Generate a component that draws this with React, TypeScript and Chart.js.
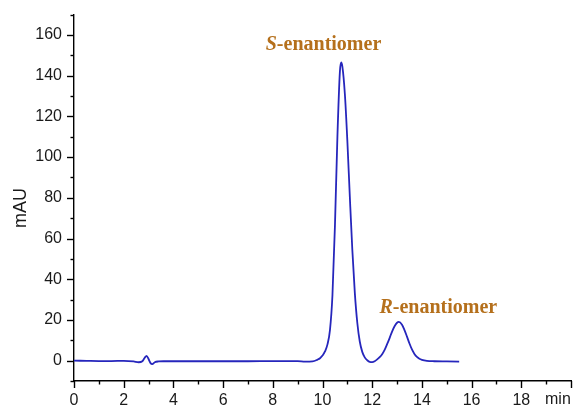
import React, { useEffect, useRef } from "react";
import { Chart, registerables } from "chart.js";

Chart.register(...registerables);

// Retention time (min)
const times = [
  0, 0.5, 1, 1.5, 2, 2.4, 2.6, 2.75, 2.85, 2.92, 3.0, 3.08, 3.15, 3.25, 3.4, 3.6,
  4, 5, 6, 7, 8, 8.5, 9, 9.3, 9.6, 9.8, 9.9, 10.0, 10.1, 10.2, 10.3, 10.4, 10.5,
  10.6, 10.7, 10.75, 10.8, 10.9, 11.0, 11.1, 11.2, 11.3, 11.4, 11.5, 11.6, 11.7,
  11.8, 11.9, 12.0, 12.1, 12.2, 12.3, 12.4, 12.5, 12.6, 12.7, 12.8, 12.9, 13.0,
  13.07, 13.2, 13.3, 13.4, 13.5, 13.6, 13.7, 13.8, 13.9, 14.0, 14.2, 14.5, 15.0, 15.5,
];
// Absorbance (mAU)
const mau = [
  0, -0.1, -0.2, -0.2, -0.1, -0.4, -0.8, -0.3, 1.5, 2.3, 0.8, -1.2, -1.7, -0.8, -0.4, -0.3,
  -0.3, -0.3, -0.3, -0.3, -0.2, -0.2, -0.2, -0.5, -0.4, 0.5, 1.2, 2.5, 4.5, 8, 15, 32, 66,
  110, 142, 146.5, 144.5, 131, 108, 80.5, 54.5, 33.4, 18.6, 9.4, 4.3, 1.6,
  0.2, -0.6, -0.7, -0.3, 0.6, 1.7, 3.2, 5.3, 8.1, 11.1, 14.3, 16.9, 18.6,
  19.0, 17.6, 15.0, 11.8, 8.4, 5.5, 3.3, 1.8, 0.9, 0.4, -0.1, -0.3, -0.4, -0.5,
];

const yTickLabels = [0, 20, 40, 60, 80, 100, 120, 140, 160];
const xTickLabels = [0, 2, 4, 6, 8, 10, 12, 14, 16, 18];
const xUnitLabel = "min";
const yAxisTitle = "mAU";

const peakLabels = [
  { letter: "S", rest: "-enantiomer", x: 10.04, y: 155 },
  { letter: "R", rest: "-enantiomer", x: 14.66, y: 26.1 },
];

const TICK_FONT = '16px "Liberation Sans", Arial, sans-serif';

const decorPlugin = {
  id: "decor",
  afterDraw(chart: any) {
    const ctx = chart.ctx;
    const xs = chart.scales.x;
    const ys = chart.scales.y;
    const area = chart.chartArea;
    ctx.save();
    ctx.strokeStyle = "#000";
    ctx.lineWidth = 1.4;
    // y ticks
    for (let v = -10; v <= 170; v += 10) {
      const p = Math.round(ys.getPixelForValue(v)) + 0.5;
      const len = v % 20 === 0 ? 7 : 3.5;
      ctx.beginPath();
      ctx.moveTo(area.left, p);
      ctx.lineTo(area.left - len, p);
      ctx.stroke();
    }
    // x ticks
    for (let v = 0; v <= 20; v += 1) {
      const p = Math.round(xs.getPixelForValue(v)) + 0.5;
      const len = v % 2 === 0 ? 7 : 3.5;
      ctx.beginPath();
      ctx.moveTo(p, area.bottom);
      ctx.lineTo(p, area.bottom + len);
      ctx.stroke();
    }
    // x unit label
    ctx.fillStyle = "#1a1a1a";
    ctx.font = TICK_FONT;
    ctx.textAlign = "left";
    ctx.textBaseline = "top";
    ctx.fillText(xUnitLabel, xs.getPixelForValue(20) - 26, area.bottom + 11);
    // y title
    ctx.save();
    ctx.translate(21, ys.getPixelForValue(75));
    ctx.rotate(-Math.PI / 2);
    ctx.textAlign = "center";
    ctx.textBaseline = "middle";
    ctx.font = '18px "Liberation Sans", Arial, sans-serif';
    ctx.fillText(yAxisTitle, 0, 0);
    ctx.restore();
    // peak labels
    ctx.fillStyle = "#b5701c";
    ctx.textBaseline = "middle";
    ctx.textAlign = "left";
    for (const lab of peakLabels) {
      const italic = 'italic bold 20px "Liberation Serif", "Times New Roman", serif';
      const bold = 'bold 20px "Liberation Serif", "Times New Roman", serif';
      ctx.font = italic;
      const w1 = ctx.measureText(lab.letter).width;
      ctx.font = bold;
      const w2 = ctx.measureText(lab.rest).width;
      const cx = xs.getPixelForValue(lab.x);
      const cy = ys.getPixelForValue(lab.y);
      const x0 = cx - (w1 + w2) / 2;
      ctx.font = italic;
      ctx.fillText(lab.letter, x0, cy);
      ctx.font = bold;
      ctx.fillText(lab.rest, x0 + w1, cy);
    }
    ctx.restore();
  },
};

export default function App() {
  const ref = useRef<HTMLCanvasElement | null>(null);
  useEffect(() => {
    document.body.style.margin = "0";
    const canvas = ref.current!;
    const chart = new Chart(canvas, {
      type: "line",
      data: {
        datasets: [
          {
            data: times.map((t, i) => ({ x: t, y: mau[i] })),
            borderColor: "#2626bc",
            borderWidth: 1.8,
            pointRadius: 0,
            cubicInterpolationMode: "monotone",
            fill: false,
          },
        ],
      },
      options: {
        animation: false,
        responsive: false,
        layout: { padding: { top: 12, right: 3, left: 0, bottom: 0 } },
        plugins: { legend: { display: false }, tooltip: { enabled: false } },
        scales: {
          x: {
            type: "linear",
            min: 0,
            max: 20,
            afterFit: (s: any) => {
              s.height = 26;
            },
            border: { display: true, color: "#000", width: 1.4 },
            grid: { display: true, drawOnChartArea: false, drawTicks: true, tickLength: 7, color: "rgba(0,0,0,0)" },
            ticks: {
              stepSize: 1,
              autoSkip: false,
              maxRotation: 0,
              padding: 3,
              color: "#1a1a1a",
              font: { family: '"Liberation Sans", Arial, sans-serif', size: 16 },
              callback: (v: any) => (xTickLabels.includes(Number(v)) ? String(v) : ""),
            },
          },
          y: {
            type: "linear",
            min: -10,
            max: 170,
            afterFit: (s: any) => {
              s.width = 74;
            },
            border: { display: true, color: "#000", width: 1.4 },
            grid: { display: true, drawOnChartArea: false, drawTicks: true, tickLength: 7, color: "rgba(0,0,0,0)" },
            ticks: {
              stepSize: 10,
              autoSkip: false,
              padding: 5,
              color: "#1a1a1a",
              font: { family: '"Liberation Sans", Arial, sans-serif', size: 16 },
              callback: (v: any) => (yTickLabels.includes(Number(v)) ? String(v) : ""),
            },
          },
        },
      },
      plugins: [decorPlugin],
    } as any);
    return () => chart.destroy();
  }, []);
  return (
    <div style={{ width: 574, height: 407 }}>
      <canvas ref={ref} width={574} height={407} />
    </div>
  );
}
